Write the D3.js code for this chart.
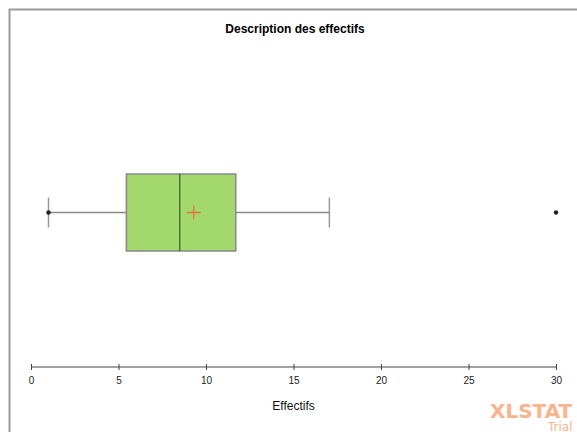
<!DOCTYPE html>
<html>
<head>
<meta charset="utf-8">
<script src="https://cdn.jsdelivr.net/npm/d3@7"></script>
<style>
  body { margin: 0; background: #fff; }
  svg { display: block; font-family: "Liberation Sans", Arial, sans-serif; }
</style>
</head>
<body>
<svg width="577" height="432"></svg>
<script>
// box plot stats
var minVal = 1, q1 = 5.45, median = 8.5, q3 = 11.7, maxWhisker = 17.05;
var meanVal = 9.3;
var outliers = [30];
var tickVals = [0, 5, 10, 15, 20, 25, 30];

var svg = d3.select("svg"),
    width = +svg.attr("width"),
    height = +svg.attr("height");

// outer frame (cut off at right/bottom like the reference)
svg.append("path")
    .attr("d", "M9.5," + (height + 2) + "V9.5H" + (width + 2))
    .attr("fill", "none")
    .attr("stroke", "#9a9a9a")
    .attr("stroke-width", 2);

svg.append("text")
    .attr("x", 295).attr("y", 33)
    .attr("text-anchor", "middle")
    .style("font-size", "12px").style("font-weight", "bold")
    .text("Description des effectifs");

var x = d3.scaleLinear().domain([0, 30]).range([31, 556]);
var yMid = 212.5, boxH = 77, capH = 30;

// axis
var axis = svg.append("g")
    .attr("transform", "translate(0,367)")
    .call(d3.axisBottom(x).tickValues(tickVals).tickSize(4).tickSizeOuter(0));
axis.select(".domain").attr("stroke", "#444").attr("d", "M" + x(0) + ",0H" + x(30));
axis.selectAll(".tick line").attr("stroke", "#444").attr("y1", -3).attr("y2", 3);
axis.selectAll(".tick text").attr("y", 10).style("font-size", "10px").attr("fill", "#222");

svg.append("text")
    .attr("x", x(15)).attr("y", 410)
    .attr("text-anchor", "middle")
    .style("font-size", "12px").attr("fill", "#111")
    .text("Effectifs");

// whiskers
var g = svg.append("g");
g.append("line")
    .attr("x1", x(minVal)).attr("x2", x(q1))
    .attr("y1", yMid).attr("y2", yMid)
    .attr("stroke", "#888").attr("stroke-width", 1.5);
g.append("line")
    .attr("x1", x(q3)).attr("x2", x(maxWhisker))
    .attr("y1", yMid).attr("y2", yMid)
    .attr("stroke", "#888").attr("stroke-width", 1.5);
[minVal, maxWhisker].forEach(function (v) {
  g.append("line")
      .attr("x1", x(v)).attr("x2", x(v))
      .attr("y1", yMid - capH / 2).attr("y2", yMid + capH / 2)
      .attr("stroke", "#999").attr("stroke-width", 1.5);
});

// box
g.append("rect")
    .attr("x", x(q1)).attr("y", yMid - boxH / 2)
    .attr("width", x(q3) - x(q1)).attr("height", boxH)
    .attr("fill", "#a3d86c")
    .attr("stroke", "#888").attr("stroke-width", 1.5);
g.append("line")
    .attr("x1", x(median)).attr("x2", x(median))
    .attr("y1", yMid - boxH / 2).attr("y2", yMid + boxH / 2)
    .attr("stroke", "#4f6f3a").attr("stroke-width", 1.5);

// mean cross
g.append("path")
    .attr("d", "M" + (x(meanVal) - 7) + "," + yMid + "h14M" + x(meanVal) + "," + (yMid - 7) + "v14")
    .attr("stroke", "#e8743c").attr("stroke-width", 1.3);

// min point and outliers
g.selectAll("circle.pt")
    .data([minVal].concat(outliers))
    .enter().append("circle")
    .attr("class", "pt")
    .attr("cx", function (d) { return x(d); })
    .attr("cy", yMid)
    .attr("r", 2.2)
    .attr("fill", "#222");

// watermark (runs off the right edge as in the reference)
svg.append("text")
    .attr("x", 490).attr("y", 418)
    .style("font-family", "'DejaVu Sans', sans-serif")
    .style("font-size", "20px").style("font-weight", "bold")
    .attr("fill", "#f9b48e")
    .text("XLSTAT");
svg.append("text")
    .attr("x", 548).attr("y", 431)
    .style("font-family", "'DejaVu Sans', sans-serif")
    .style("font-size", "12px")
    .attr("fill", "#f9b48e")
    .text("Trial");
</script>
</body>
</html>
